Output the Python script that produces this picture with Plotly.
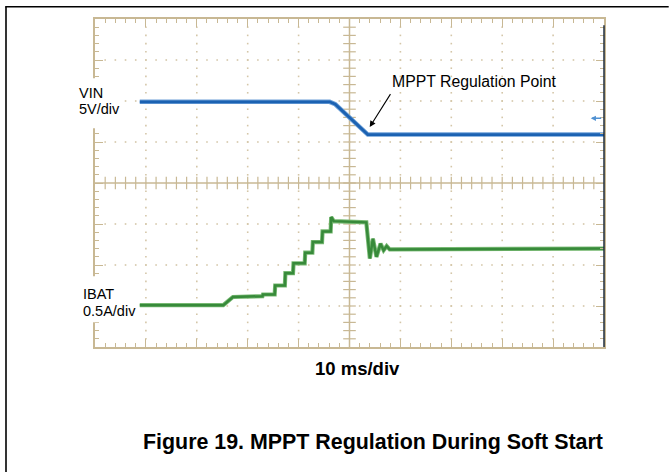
import plotly.graph_objects as go

# ---------------- data (read from the scope capture) ----------------
# time in ms (10 ms/div, 10 divisions)
vin_t = [8.8, 46.1, 47.2, 50.0, 53.6, 100.0]
vin_v = [20.9, 20.9, 20.6, 19.0, 16.9, 16.9]          # volts

ibat_t = [8.8, 25.2, 27.1, 32.9, 33.0, 35.3, 35.4, 37.3, 37.4, 38.9, 39.0,
          41.2, 41.3, 42.7, 42.8, 44.6, 44.7, 46.3, 46.4, 46.9, 53.3, 54.0,
          54.6, 55.3, 56.1, 56.7, 57.3, 57.9, 100.0]
ibat_a = [0.01, 0.01, 0.11, 0.12, 0.14, 0.14, 0.25, 0.25, 0.40, 0.40, 0.52,
          0.52, 0.65, 0.65, 0.78, 0.78, 0.91, 0.91, 1.085, 1.035, 1.02, 0.58,
          0.82, 0.60, 0.76, 0.68, 0.73, 0.69, 0.70]     # amps

# scope channel settings
VIN_PER_DIV, VIN_ZERO_DIV = 5.0, 1.8
IBAT_PER_DIV, IBAT_ZERO_DIV = 0.5, 1.0
N_XDIV, N_YDIV = 10, 8
MS_PER_DIV = 10

# ---------------- layout geometry ----------------
W, H = 669, 472
L, R, T, B = 95.3, 604.3, 18.7, 346.7
PW, PH = R - L, B - T

def px(x):  # pixel x -> paper
    return (x - L) / PW

def py(y):  # pixel y -> paper
    return (B - y) / PH

TAN = "rgb(200,184,148)"
DOT = "rgb(212,198,168)"

fig = go.Figure()

# dotted grid
dx, dy = [], []
for i in range(1, N_XDIV):
    if i == N_XDIV // 2:
        continue
    for j in range(1, N_YDIV * 5):
        dx.append(i * MS_PER_DIV)
        dy.append(j / 5)
for j in range(1, N_YDIV):
    if j == N_YDIV // 2:
        continue
    for i in range(1, N_XDIV * 5):
        dx.append(i * MS_PER_DIV / 5)
        dy.append(j)
fig.add_trace(go.Scatter(x=dx, y=dy, mode="markers", yaxis="y",
                         marker=dict(symbol="square", size=1.6, color=DOT, line=dict(width=0)),
                         hoverinfo="skip", showlegend=False))

# center cross ticks
cy = [j / 5 for j in range(1, N_YDIV * 5)]
fig.add_trace(go.Scatter(x=[N_XDIV * MS_PER_DIV / 2] * len(cy), y=cy, mode="markers", yaxis="y",
                         marker=dict(symbol="line-ew", size=9, line=dict(color=TAN, width=1.2)),
                         hoverinfo="skip", showlegend=False))
cx = [i * MS_PER_DIV / 5 for i in range(1, N_XDIV * 5)]
fig.add_trace(go.Scatter(x=cx, y=[N_YDIV / 2] * len(cx), mode="markers", yaxis="y",
                         marker=dict(symbol="line-ns", size=9, line=dict(color=TAN, width=1.2)),
                         hoverinfo="skip", showlegend=False))

# traces (halo + core)
fig.add_trace(go.Scatter(x=vin_t, y=vin_v, mode="lines", yaxis="y2",
                         line=dict(color="rgb(110,160,215)", width=4.5), hoverinfo="skip", showlegend=False))
fig.add_trace(go.Scatter(x=vin_t, y=vin_v, mode="lines", yaxis="y2",
                         line=dict(color="rgb(28,98,178)", width=2.8), showlegend=False))
fig.add_trace(go.Scatter(x=ibat_t, y=ibat_a, mode="lines", yaxis="y3",
                         line=dict(color="rgb(120,185,115)", width=4.2), hoverinfo="skip", showlegend=False))
fig.add_trace(go.Scatter(x=ibat_t, y=ibat_a, mode="lines", yaxis="y3",
                         line=dict(color="rgb(55,138,58)", width=2.5), showlegend=False))

# trigger marker
fig.add_trace(go.Scatter(x=[N_XDIV * MS_PER_DIV / 2], y=[N_YDIV + 0.02], mode="markers", yaxis="y",
                         marker=dict(symbol="triangle-down", size=9, color="rgb(240,112,50)"),
                         cliponaxis=False, hoverinfo="skip", showlegend=False))

shapes = [
    # center cross
    dict(type="line", xref="x", yref="y", x0=50, x1=50, y0=0, y1=8, line=dict(color=TAN, width=1.5), layer="below"),
    dict(type="line", xref="x", yref="y", x0=0, x1=100, y0=4, y1=4, line=dict(color=TAN, width=1.5), layer="below"),
    # dark right edge
    dict(type="line", xref="paper", yref="paper", x0=1.0, x1=1.0, y0=0.0, y1=py(25),
         line=dict(color="rgb(30,45,62)", width=1.5)),
    # white label patches
    dict(type="rect", xref="paper", yref="paper", x0=px(74), x1=px(124), y0=py(128), y1=py(78),
         fillcolor="white", line=dict(width=0), layer="above"),
    dict(type="rect", xref="paper", yref="paper", x0=px(74), x1=px(139), y0=py(322), y1=py(276),
         fillcolor="white", line=dict(width=0), layer="above"),
    # blank right margin strip
    dict(type="rect", xref="paper", yref="paper", x0=px(640), x1=px(675), y0=py(480), y1=py(9),
         fillcolor="white", line=dict(width=0), layer="above"),
    # outer frame (left and top only)
    dict(type="line", xref="paper", yref="paper", x0=px(6.3), x1=px(6.3), y0=py(472), y1=py(6.5),
         line=dict(color="black", width=1.6)),
    dict(type="line", xref="paper", yref="paper", x0=px(5.5), x1=px(669), y0=py(6.5), y1=py(6.5),
         line=dict(color="black", width=1.6)),
]

FONT = "Liberation Sans, Arial, Helvetica, sans-serif"
ann = [
    dict(text="VIN", x=px(78.3), y=py(92.5), xanchor="left", yanchor="middle", font=dict(size=14.5)),
    dict(text="5V/div", x=px(78.3), y=py(108.5), xanchor="left", yanchor="middle", font=dict(size=14.5)),
    dict(text="IBAT", x=px(82), y=py(294), xanchor="left", yanchor="middle", font=dict(size=14.5)),
    dict(text="0.5A/div", x=px(82), y=py(311), xanchor="left", yanchor="middle", font=dict(size=14.5)),
    dict(text="MPPT Regulation Point", x=px(475), y=py(81.5), xanchor="center", yanchor="middle",
         font=dict(size=15.8)),
    dict(text="<b>10 ms/div</b>", x=px(357.5), y=py(368.5), xanchor="center", yanchor="middle",
         font=dict(size=18.5)),
    dict(text="<b>Figure 19. MPPT Regulation During Soft Start</b>", x=px(373.5), y=py(442),
         xanchor="center", yanchor="middle", font=dict(size=21.4)),
]
for a in ann:
    a.update(xref="paper", yref="paper", showarrow=False, borderpad=0)
    a["font"].update(family=FONT, color="black")

# arrow to MPPT point
ann.append(dict(x=px(370), y=py(126.7), xref="paper", yref="paper", text="", showarrow=True,
                ax=21.7, ay=-34.4, arrowhead=2, arrowsize=1.1, arrowwidth=1.1, arrowcolor="black"))
# channel reference marker on right
ann.append(dict(x=px(591), y=py(118), xref="paper", yref="paper", text="", showarrow=True,
                ax=12, ay=0, arrowhead=2, arrowsize=0.7, arrowwidth=1.5, arrowcolor="rgb(80,145,210)"))

axis_common = dict(showgrid=False, zeroline=False, showticklabels=False, ticks="inside",
                   tickcolor=TAN, tickwidth=1.2, ticklen=8, showline=True, linecolor=TAN,
                   linewidth=2, mirror="ticks", fixedrange=True)

fig.update_layout(
    width=W, height=H,
    margin=dict(l=L, r=W - R, t=T, b=H - B, pad=0),
    paper_bgcolor="white", plot_bgcolor="white",
    showlegend=False,
    xaxis=dict(range=[0, N_XDIV * MS_PER_DIV], tickmode="linear", tick0=0, dtick=MS_PER_DIV,
               minor=dict(ticks="inside", dtick=MS_PER_DIV / 5, ticklen=4, tickcolor=TAN, tickwidth=1.2),
               **axis_common),
    yaxis=dict(range=[0, N_YDIV], tickmode="linear", tick0=0, dtick=1,
               minor=dict(ticks="inside", dtick=0.2, ticklen=4, tickcolor=TAN, tickwidth=1.2),
               **axis_common),
    yaxis2=dict(overlaying="y", visible=False, fixedrange=True,
                range=[(0 - VIN_ZERO_DIV) * VIN_PER_DIV, (N_YDIV - VIN_ZERO_DIV) * VIN_PER_DIV]),
    yaxis3=dict(overlaying="y", visible=False, fixedrange=True,
                range=[(0 - IBAT_ZERO_DIV) * IBAT_PER_DIV, (N_YDIV - IBAT_ZERO_DIV) * IBAT_PER_DIV]),
    shapes=shapes,
    annotations=ann,
)

fig.write_html("out.html", config={"displayModeBar": False},
               post_script="document.documentElement.style.overflow='hidden';"
                           "document.body.style.margin='0';document.body.style.overflow='hidden';")
